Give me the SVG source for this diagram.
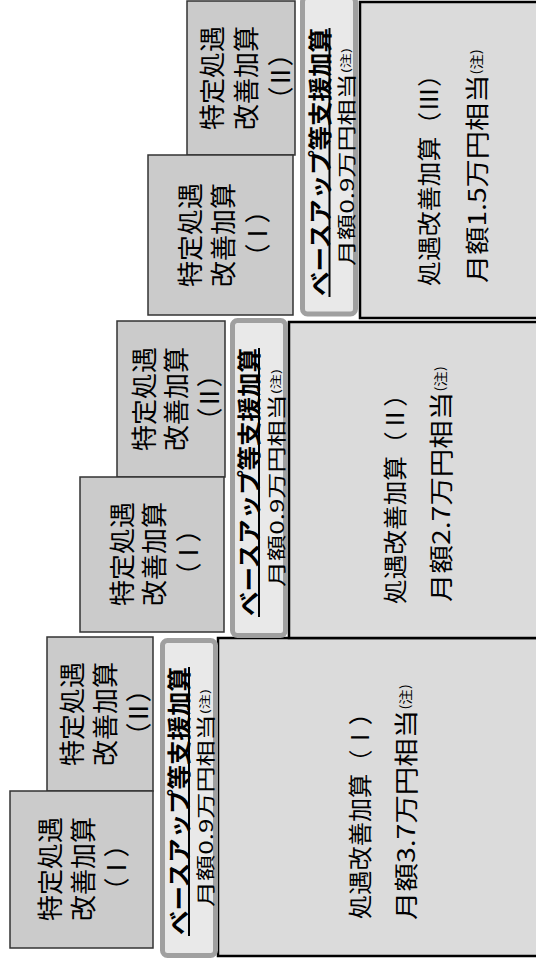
<svg xmlns="http://www.w3.org/2000/svg" width="536" height="960" viewBox="0 0 536 960">
<style>
.bg{fill:#ffffff}
.tok{fill:#cbcbcb;stroke:#333;stroke-width:1.5}
.big{fill:#dbdbdb;stroke:#000;stroke-width:2.5}
.bu{fill:#e9e9e9;stroke:#a0a0a0;stroke-width:5}
text{font-family:"Noto Sans CJK JP","Noto Sans CJK SC",sans-serif;fill:#000;text-anchor:middle;dominant-baseline:central}
.t26{font-size:26px}
.num{font-size:26px;letter-spacing:-3px}
.t24{font-size:24px}
.b24{font-size:24px;font-weight:bold}
.t19{font-size:19px}
.note{font-size:13px}
.note2{font-size:11px}
.ul{stroke:#000;stroke-width:2}
</style>
<rect class="bg" x="0" y="0" width="536" height="960"/>

<!-- ===== Bottom set ===== -->
<g id="shoguu1">
<rect class="big" x="218" y="638" width="330" height="318"/>
<text class="t24" transform="translate(358 810) rotate(-90)" textLength="218" lengthAdjust="spacingAndGlyphs">処遇改善加算（Ⅰ）</text>
<text class="t24" transform="translate(404 802) rotate(-90)" textLength="236" lengthAdjust="spacingAndGlyphs">月額3.7万円相当<tspan class="note">(注)</tspan></text>
</g>
<g id="baseup1">
<rect class="bu" x="162.5" y="640.5" width="53" height="315" rx="5"/>
<text class="b24" transform="translate(177.5 801) rotate(-90)" textLength="268" lengthAdjust="spacingAndGlyphs">ベースアップ等支援加算</text>
<line class="ul" x1="189" y1="667" x2="189" y2="936"/>
<text class="t19" transform="translate(204 798) rotate(-90)" textLength="218" lengthAdjust="spacingAndGlyphs">月額0.9万円相当<tspan class="note2">(注)</tspan></text>
</g>
<g id="tokutei1-2">
<rect class="tok" x="47" y="637" width="106" height="154"/>
<text class="t26" transform="translate(70 714) rotate(-90)">特定処遇</text>
<text class="t26" transform="translate(103 714) rotate(-90)">改善加算</text>
<text class="num" transform="translate(136 714) rotate(-90)">（Ⅱ）</text>
</g>
<g id="tokutei1-1">
<rect class="tok" x="10" y="791" width="143" height="157"/>
<text class="t26" transform="translate(48 869) rotate(-90)">特定処遇</text>
<text class="t26" transform="translate(81 869) rotate(-90)">改善加算</text>
<text class="num" transform="translate(114 869) rotate(-90)">（Ⅰ）</text>
</g>

<!-- ===== Middle set ===== -->
<g id="shoguu2">
<rect class="big" x="289" y="322" width="260" height="316"/>
<text class="t24" transform="translate(393 493) rotate(-90)" textLength="222" lengthAdjust="spacingAndGlyphs">処遇改善加算（Ⅱ）</text>
<text class="t24" transform="translate(439 484) rotate(-90)" textLength="236" lengthAdjust="spacingAndGlyphs">月額2.7万円相当<tspan class="note">(注)</tspan></text>
</g>
<g id="baseup2">
<rect class="bu" x="232.5" y="320.5" width="53" height="315" rx="5"/>
<text class="b24" transform="translate(247.5 482) rotate(-90)" textLength="268" lengthAdjust="spacingAndGlyphs">ベースアップ等支援加算</text>
<line class="ul" x1="259" y1="348" x2="259" y2="617"/>
<text class="t19" transform="translate(275 478) rotate(-90)" textLength="218" lengthAdjust="spacingAndGlyphs">月額0.9万円相当<tspan class="note2">(注)</tspan></text>
</g>
<g id="tokutei2-2">
<rect class="tok" x="117" y="321" width="108" height="156"/>
<text class="t26" transform="translate(142 399) rotate(-90)">特定処遇</text>
<text class="t26" transform="translate(174 399) rotate(-90)">改善加算</text>
<text class="num" transform="translate(207 399) rotate(-90)">（Ⅱ）</text>
</g>
<g id="tokutei2-1">
<rect class="tok" x="80" y="477" width="144" height="155"/>
<text class="t26" transform="translate(120 554) rotate(-90)">特定処遇</text>
<text class="t26" transform="translate(152 554) rotate(-90)">改善加算</text>
<text class="num" transform="translate(186 554) rotate(-90)">（Ⅰ）</text>
</g>

<!-- ===== Top set ===== -->
<g id="shoguu3">
<rect class="big" x="360" y="2" width="190" height="316"/>
<text class="t24" transform="translate(427 174) rotate(-90)" textLength="224" lengthAdjust="spacingAndGlyphs">処遇改善加算（Ⅲ）</text>
<text class="t24" transform="translate(475 166) rotate(-90)" textLength="234" lengthAdjust="spacingAndGlyphs">月額1.5万円相当<tspan class="note">(注)</tspan></text>
</g>
<g id="baseup3">
<rect class="bu" x="302.5" y="-3" width="53" height="317" rx="5"/>
<text class="b24" transform="translate(318 162) rotate(-90)" textLength="268" lengthAdjust="spacingAndGlyphs">ベースアップ等支援加算</text>
<line class="ul" x1="329.5" y1="28" x2="329.5" y2="297"/>
<text class="t19" transform="translate(345 157) rotate(-90)" textLength="218" lengthAdjust="spacingAndGlyphs">月額0.9万円相当<tspan class="note2">(注)</tspan></text>
</g>
<g id="tokutei3-2">
<rect class="tok" x="187" y="1" width="108" height="154"/>
<text class="t26" transform="translate(210 78) rotate(-90)">特定処遇</text>
<text class="t26" transform="translate(244 78) rotate(-90)">改善加算</text>
<text class="num" transform="translate(278 78) rotate(-90)">（Ⅱ）</text>
</g>
<g id="tokutei3-1">
<rect class="tok" x="148" y="155" width="145" height="160"/>
<text class="t26" transform="translate(188 235) rotate(-90)">特定処遇</text>
<text class="t26" transform="translate(221 235) rotate(-90)">改善加算</text>
<text class="num" transform="translate(255 235) rotate(-90)">（Ⅰ）</text>
</g>

<g id="connectors"></g>
</svg>
